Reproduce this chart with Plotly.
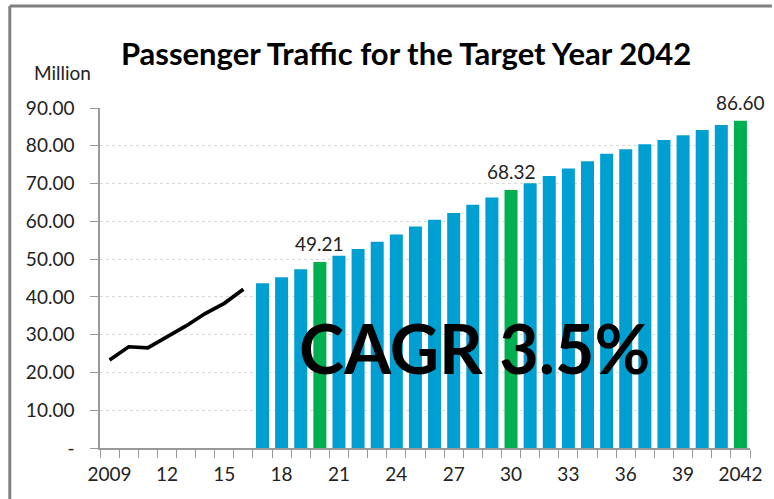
import plotly.graph_objects as go

# Historical (line)
hist_years = [2009, 2010, 2011, 2012, 2013, 2014, 2015, 2016]
hist_values = [23.3, 26.8, 26.5, 29.3, 32.3, 35.6, 38.3, 42.0]

# Forecast (bars)
fc_years = list(range(2017, 2043))
fc_values = [43.6, 45.2, 47.3, 49.21, 50.9, 52.7, 54.6, 56.5, 58.6, 60.4, 62.2,
             64.4, 66.3, 68.32, 70.1, 72.0, 74.0, 75.9, 77.9, 79.1, 80.4, 81.5,
             82.8, 84.2, 85.5, 86.60]
highlight_years = [2020, 2030, 2042]

tick_years = list(range(2009, 2043, 3))
tick_labels = ["2009", "12", "15", "18", "21", "24", "27", "30", "33", "36", "39", "2042"]
y_ticks = [0, 10, 20, 30, 40, 50, 60, 70, 80, 90]
y_labels = ["-"] + ["%.2f" % v for v in y_ticks[1:]]

BLUE = "#009fd1"
GREEN = "#00b050"
FONT = "Lato"

colors = [GREEN if y in highlight_years else BLUE for y in fc_years]

fig = go.Figure()
fig.add_trace(go.Bar(
    x=fc_years, y=fc_values, marker=dict(color=colors, line=dict(width=0)),
    width=0.68, showlegend=False, hoverinfo="x+y",
))
fig.add_trace(go.Scatter(
    x=hist_years, y=hist_values, mode="lines",
    line=dict(color="black", width=3.7), showlegend=False,
))

annotations = [
    dict(text="Million", xref="paper", yref="paper", x=(32 - 100) / 652,
         y=1 + (108 - 73) / 340, xanchor="left", yanchor="middle",
         showarrow=False, font=dict(family=FONT, size=19, color="#222222")),
    dict(text="<b>CAGR 3.5%</b>", xref="x", yref="y", x=2028.1, y=26.5,
         xanchor="center", yanchor="middle", showarrow=False,
         font=dict(family=FONT, size=68, color="black")),
]
for yr, v in zip(fc_years, fc_values):
    if yr in highlight_years:
        annotations.append(dict(text="%.2f" % v, xref="x", yref="y", x=yr, y=v,
                                xanchor="center", yanchor="bottom", yshift=5,
                                showarrow=False,
                                font=dict(family=FONT, size=19, color="#222222")))

fig.update_layout(
    width=774, height=499,
    margin=dict(l=100, r=22, t=108, b=51),
    paper_bgcolor="white", plot_bgcolor="white",
    font=dict(family=FONT, size=19, color="#222222"),
    title=dict(text="<b>Passenger Traffic for the Target Year 2042</b>",
               x=406 / 774, xanchor="center", y=1 - 54 / 499, yanchor="middle",
               font=dict(family=FONT, size=31, color="black")),
    xaxis=dict(
        range=[2008.5, 2042.5], tickmode="array", tickvals=tick_years, ticktext=tick_labels,
        ticks="", showgrid=False, showline=True, linecolor="#999999", linewidth=1.5,
        zeroline=False, tickfont=dict(family=FONT, size=19, color="#222222"),
        ticklabelstandoff=8,
        minor=dict(tickmode="linear", tick0=2008.5, dtick=1, ticks="outside",
                   ticklen=8, tickcolor="#999999", tickwidth=1, showgrid=False),
    ),
    yaxis=dict(
        range=[0, 90], tickmode="array", tickvals=y_ticks, ticktext=y_labels,
        ticks="outside", ticklen=8, tickcolor="#999999", showline=True,
        linecolor="#999999", linewidth=1.5, zeroline=False,
        showgrid=True, gridcolor="#d9d9d9", griddash="dot", gridwidth=1,
        tickfont=dict(family=FONT, size=19, color="#222222"),
        ticklabelstandoff=12,
    ),
    bargap=0.32,
    annotations=annotations,
    shapes=[
        dict(type="line", xref="paper", yref="paper", x0=(9.5 - 100) / 652, x1=(774 - 100) / 652,
             y0=1 + (108 - 6) / 340, y1=1 + (108 - 6) / 340, line=dict(color="#808080", width=3)),
        dict(type="line", xref="paper", yref="paper", x0=(9.5 - 100) / 652, x1=(9.5 - 100) / 652,
             y0=1 + (108 - 6) / 340, y1=-0.2, line=dict(color="#808080", width=3)),
    ],
)

fig.write_html("out.html", config={"displayModeBar": False},
               post_script="document.body.style.margin='0';")
